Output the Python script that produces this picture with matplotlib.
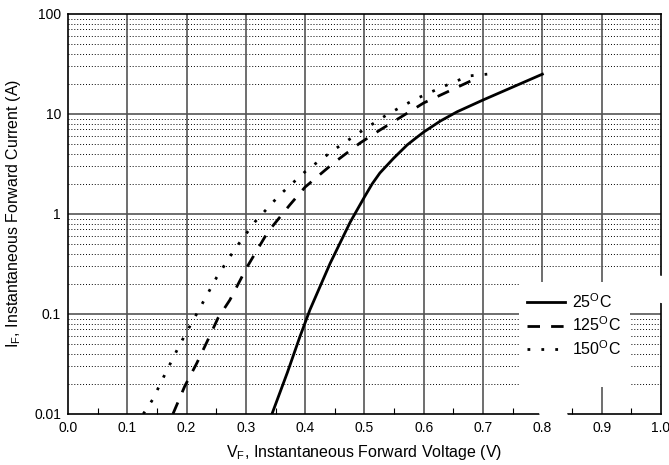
import numpy as np
import matplotlib
matplotlib.use('Agg')
from matplotlib import pyplot as plt
from matplotlib.patches import Wedge, Rectangle

plt.rcParams['font.family'] = ['Liberation Sans', 'DejaVu Sans']
plt.rcParams['mathtext.fontset'] = 'custom'
plt.rcParams['mathtext.rm'] = 'Liberation Sans'
plt.rcParams['mathtext.it'] = 'Liberation Sans:italic'

# forward characteristics (V, A)
v_25 = [0.344, 0.37, 0.391, 0.408, 0.442, 0.476, 0.50, 0.513, 0.526, 0.549, 0.572,
        0.586, 0.60, 0.628, 0.656, 0.70, 0.80]
i_25 = [0.01, 0.026, 0.059, 0.11, 0.32, 0.83, 1.48, 2.0, 2.57, 3.6, 4.9,
        5.7, 6.6, 8.5, 10.5, 13.8, 25]

v_125 = [0.177, 0.197, 0.217, 0.234, 0.253, 0.273, 0.302, 0.337, 0.374, 0.40,
         0.447, 0.492, 0.526, 0.60, 0.683, 0.69]
i_125 = [0.01, 0.019, 0.032, 0.052, 0.091, 0.138, 0.295, 0.66, 1.23, 1.86,
         3.2, 5.1, 6.9, 12.9, 21.9, 23]

v_150 = [0.127, 0.143, 0.165, 0.189, 0.214, 0.251, 0.282, 0.315, 0.357, 0.403,
         0.449, 0.496, 0.54, 0.585, 0.631, 0.676, 0.707]
i_150 = [0.01, 0.014, 0.026, 0.05, 0.093, 0.234, 0.45, 0.83, 1.55, 2.75,
         4.4, 6.8, 10, 14, 18.6, 24, 25]

x_ticks = [0.0, 0.1, 0.2, 0.3, 0.4, 0.5, 0.6, 0.7, 0.8, 0.9, 1.0]
y_ticks = [0.01, 0.1, 1, 10, 100]
y_labels = ['0.01', '0.1', '1', '10', '100']
labels = ['25$^{\\mathrm{O}}$C', '125$^{\\mathrm{O}}$C', '150$^{\\mathrm{O}}$C']

rect = [0.1016, 0.1097, 0.8864, 0.8603]
fig = plt.figure(figsize=(6.69, 4.65), dpi=100)

# bottom axes: grid, spines and curves
ax = fig.add_axes(rect, zorder=0)
ax.set_yscale('log')
ax.set_xlim(0, 1.0)
ax.set_ylim(0.01, 100)
for x in x_ticks[1:-1]:
    ax.axvline(x, color='#555555', lw=1.2, zorder=0.6)
for y in y_ticks[1:-1]:
    ax.axhline(y, color='#555555', lw=1.2, zorder=0.6)
for dec in y_ticks[:-1]:
    for m in range(2, 10):
        ax.axhline(dec * m, color='black', lw=0.7, ls=(0, (1, 2)), zorder=0.55)

# legend background
ax.add_patch(Rectangle((0.76, 0.0675), 0.188, 0.2625, transform=ax.transAxes,
                       facecolor='white', edgecolor='none', zorder=0.9))

l1, = ax.plot(v_25, i_25, color='black', lw=2, label=labels[0], zorder=3)
l2, = ax.plot(v_125, i_125, color='black', lw=2, dashes=(4.5, 4), label=labels[1], zorder=3)
l3, = ax.plot(v_150, i_150, color='black', lw=2, dashes=(1, 4), label=labels[2], zorder=3)

ax.tick_params(axis='both', which='both', length=0, labelbottom=False, labelleft=False)
for s in ax.spines.values():
    s.set_linewidth(1.2)

# white swoosh arcs between the plot and the text (figure inches)
fig.patches.append(Wedge((6.48, 0.78), 1.12, 50, 300, width=0.27, transform=fig.dpi_scale_trans,
                         facecolor='white', edgecolor='none', zorder=1))
fig.patches.append(Wedge((4.80, -0.80), 1.15, 68, 150, width=0.22, transform=fig.dpi_scale_trans,
                         facecolor='white', edgecolor='none', zorder=1))

# top axes: tick labels, axis labels, legend
ax2 = fig.add_axes(rect, zorder=2)
ax2.patch.set_visible(False)
ax2.set_yscale('log')
ax2.set_xlim(0, 1.0)
ax2.set_ylim(0.01, 100)
for s in ax2.spines.values():
    s.set_visible(False)

ax2.set_xticks(x_ticks)
ax2.set_xticklabels(['%.1f' % x for x in x_ticks])
ax2.set_xticks(np.arange(0.05, 1.0, 0.1), minor=True)
ax2.set_yticks(y_ticks)
ax2.set_yticklabels(y_labels)
ax2.yaxis.set_minor_formatter(plt.NullFormatter())
ax2.tick_params(axis='both', which='major', length=0, labelsize=10, pad=5)
ax2.tick_params(axis='x', which='minor', direction='in', length=4, width=0.8)
ax2.tick_params(axis='y', which='minor', length=0)

ax2.set_xlabel('V$_{\\mathrm{F}}$, Instantaneous Forward Voltage (V)', fontsize=11.5, labelpad=6)
ax2.set_ylabel('I$_{\\mathrm{F}}$, Instantaneous Forward Current (A)', fontsize=11.5, labelpad=8)

ax2.legend(handles=[l1, l2, l3], loc='upper left', bbox_to_anchor=(0.774, 0.305),
           frameon=False, fontsize=11.5, handlelength=2.4, handletextpad=0.4,
           labelspacing=0.3, borderpad=0, borderaxespad=0)

plt.savefig('out.png', dpi=100)
plt.close()
